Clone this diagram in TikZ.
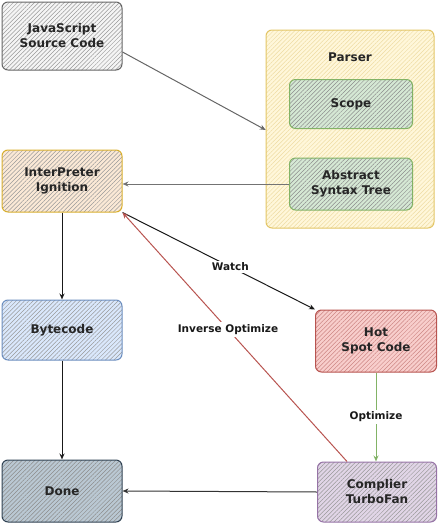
\documentclass[tikz,border=0pt]{standalone}
\usepackage{fontspec}
\setmainfont{DejaVu Sans}
\usetikzlibrary{patterns.meta,arrows.meta}
\definecolor{jsb}{HTML}{666666}\definecolor{jsf}{HTML}{F5F5F5}
\definecolor{pab}{HTML}{E3C565}\definecolor{paf}{HTML}{FFF7DA}
\definecolor{grb}{HTML}{82B366}\definecolor{grf}{HTML}{D5E8D4}
\definecolor{igb}{HTML}{D9B02E}\definecolor{igf}{HTML}{FBE9D6}
\definecolor{byb}{HTML}{6C8EBF}\definecolor{byf}{HTML}{DAE8FC}
\definecolor{dob}{HTML}{314354}\definecolor{dof}{HTML}{BAC8D3}
\definecolor{hob}{HTML}{B85450}\definecolor{hof}{HTML}{F8CECC}
\definecolor{tub}{HTML}{9673A6}\definecolor{tuf}{HTML}{E1D5E7}
\tikzset{
  boxstyle/.style n args={3}{draw=#1, line width=1pt, rounded corners=6pt,
    preaction={fill=#2},
    pattern={Lines[angle=45,distance=3pt,line width=0.5pt]}, pattern color=#3,
    minimum width=120pt, minimum height=62pt, align=center,
    font=\bfseries\fontsize{12}{15}\selectfont, text=black!85},
  arr/.style={-{Stealth[length=6pt,width=5pt,open]}, line width=1pt},
  lbl/.style={fill=white, inner sep=2pt, font=\bfseries\fontsize{10.5}{12}\selectfont, text=black!90},
}
\begin{document}
\begin{tikzpicture}[x=1pt,y=-1pt]
\useasboundingbox (0,0) rectangle (440,525);
% Parser container
\node[boxstyle={pab}{paf}{pab!60}, minimum width=168pt, minimum height=198pt] (parser) at (350,129) {};
\node[font=\bfseries\fontsize{12}{15}\selectfont, text=black!85] (parserlbl) at (350,57) {Parser};
\node[boxstyle={grb}{grf}{black!45}, minimum width=123pt, minimum height=49pt] (scope) at (351,104) {Scope};
\node[boxstyle={grb}{grf}{black!45}, minimum width=123pt, minimum height=52pt] (ast) at (351,184) {Abstract\\Syntax Tree};
% left column
\node[boxstyle={jsb}{jsf}{black!40}, minimum height=68pt] (js) at (62,36) {JavaScript\\Source Code};
\node[boxstyle={igb}{igf}{black!40}] (ign) at (62,181) {InterPreter\\Ignition};
\node[boxstyle={byb}{byf}{black!40}, minimum height=60pt] (byte) at (62,330) {Bytecode};
\node[boxstyle={dob}{dof}{black!45}] (done) at (62,491) {Done};
% right column
\node[boxstyle={hob}{hof}{hob!70}, minimum width=121pt] (hot) at (376,341) {Hot\\Spot Code};
\node[boxstyle={tub}{tuf}{black!40}, minimum width=119pt, minimum height=60pt] (turbo) at (377,492) {Complier\\TurboFan};
\coordinate (tfs) at ([xshift=30pt]turbo.north west);
% connectors
\draw[arr, draw=black!60] (js.east |- 0,52) -- (parser.west |- 0,130);
\draw[arr, draw=black!55] (ast.west) -- (ign.east |- ast.west);
\draw[arr, draw=black!90] (ign.south) -- (byte.north);
\draw[arr, draw=black!90] (byte.south) -- (done.north);
\draw[arr, draw=black!90] (ign.south east) -- node[lbl, pos=0.56] {Watch} (hot.north west);
\draw[arr, draw=hob] (tfs) -- node[lbl, pos=0.53] {Inverse Optimize} (ign.south east);
\draw[arr, draw=grb] (hot.south) -- node[lbl] {Optimize} (turbo.north -| hot.south);
\draw[arr, draw=black!80] (turbo.west) -- (done.east);
\end{tikzpicture}
\end{document}
